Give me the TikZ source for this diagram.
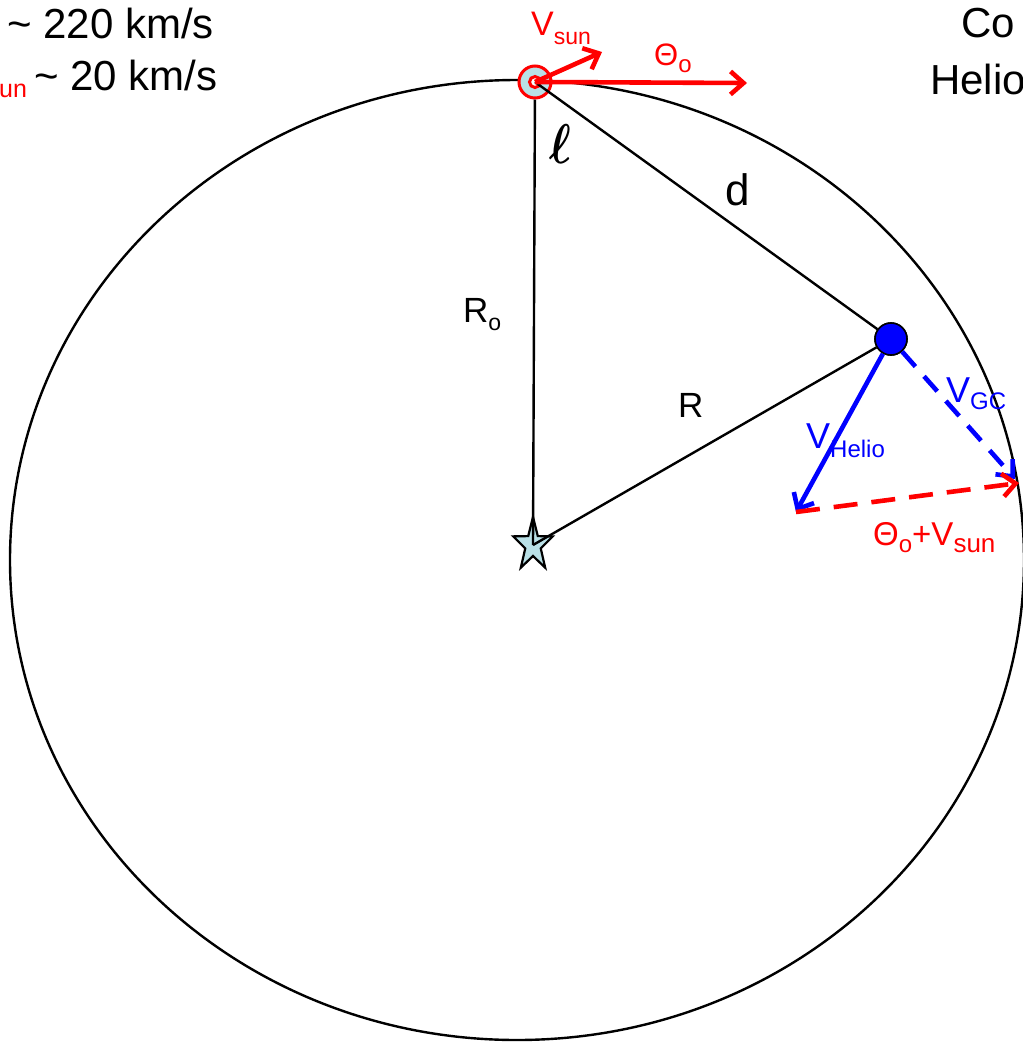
\documentclass[tikz,border=0pt]{standalone}
\usepackage{fontspec}
\setmainfont{Liberation Sans}
\usetikzlibrary{arrows.meta}
\definecolor{pblue}{RGB}{185,224,230}
\newcommand{\lowsub}[3]{\raisebox{-#1}{\fontsize{#2}{#2}\selectfont #3}}
\newcommand{\fs}[1]{\fontsize{#1}{#1}\selectfont}
\begin{document}
\begin{tikzpicture}[x=1pt,y=-1pt,
  blk/.style={draw=black, line width=2.4pt},
  redarr/.style={draw=red, line width=4.6pt, -{Straight Barb[length=13pt,width=23pt]}},
  bluearr/.style={draw=blue, line width=4.6pt, -{Straight Barb[length=13pt,width=23pt]}},
  reddash/.style={dash pattern=on 24pt off 14pt},
  bluedash/.style={dash pattern=on 20pt off 13pt},
  lbl/.style={inner sep=0pt, anchor=base west},
  sunout/.style={circle, draw=red, line width=3pt, fill=pblue, minimum size=32pt, inner sep=0pt},
  sunin/.style={circle, draw=red, line width=3pt, fill=white, minimum size=11pt, inner sep=0pt},
  dotsty/.style={circle, draw=black, line width=1.6pt, fill=blue, minimum size=32pt, inner sep=0pt},
  starsty/.style={draw=black, line width=2.2pt, fill=pblue, line join=miter}
]
\useasboundingbox (0,0) rectangle (1023,1042);
\begin{scope}
\clip (0,0) rectangle (1023,1042);
% orbit
\draw[blk] (517,560) ellipse [x radius=507, y radius=480];
% galactic centre star
\coordinate (gc) at (533,545);
\begin{scope}[shift={(gc)}, xscale=0.74]
\draw[starsty] (0,-28) -- (-6.47,-8.9) -- (-26.63,-8.65) -- (-10.46,3.4) -- (-16.46,22.65) -- (0,11) -- (16.46,22.65) -- (10.46,3.4) -- (26.63,-8.65) -- (6.47,-8.9) -- cycle;
\end{scope}
% sun and object
\node[sunout] (sun) at (535,82) {};
\node[sunin] (sunc) at (sun) {};
\node[dotsty] (dot) at (891,339) {};
% triangle
\draw[blk] (sun) -- (gc);
\draw[blk] (sun.center) -- (dot);
\draw[blk] (dot) -- (gc);
\node[dotsty] at (dot) {};
% arrow end points
\coordinate (thetaend) at (747,83);
\coordinate (vsunend) at (602,52);
\coordinate (hend) at (796,512);
\coordinate (gcend) at (1015,479);
\coordinate (sumend) at (1019,483);
% velocity arrows
\draw[redarr] (sun.center) -- (thetaend);
\draw[redarr] (sun.center) -- (vsunend);
\draw[bluearr] (dot) -- (hend);
\draw[bluearr, bluedash] (dot) -- (gcend);
\draw[redarr, reddash] (hend) -- (sumend);
% labels
\node[lbl, red] (lvsun) at (531,35) {\fs{34}V\lowsub{9pt}{23}{sun}};
\node[lbl, red] (ltheta) at (654,65) {\fs{31}Θ\lowsub{7pt}{24}{o}};
\node[lbl] (lell) at (549,163) {\scalebox{4.6}[5.6]{\boldmath$\ell$}};
\node[lbl] (ld) at (725,205) {\fs{44}d};
\node[lbl] (lro) at (463,322) {\fs{35}R\lowsub{8pt}{23}{o}};
\node[lbl] (lr) at (678,417) {\fs{35}R};
\node[lbl, blue] (lvh) at (806,448) {\fs{36}V\lowsub{9pt}{24}{Helio}};
\node[lbl, blue] (lvgc) at (946,402) {\fs{36}V\lowsub{7pt}{24}{GC}};
\node[lbl, red] (lsum) at (873,545) {\fs{33}Θ\lowsub{7pt}{24}{o}+V\lowsub{7pt}{26}{sun}};
% top texts
\node[lbl] (t1) at (7,38) {\fs{42}\textasciitilde{} 220 km/s};
\node[lbl, red] (t2a) at (-1,97) {\fs{25}un};
\node[lbl] (t2) at (34,90) {\fs{42}\textasciitilde{} 20 km/s};
\node[lbl] (t3) at (961,37) {\fs{42}Co};
\node[lbl] (t4) at (930,94) {\fs{42}Helio};
\end{scope}
\end{tikzpicture}
\end{document}
